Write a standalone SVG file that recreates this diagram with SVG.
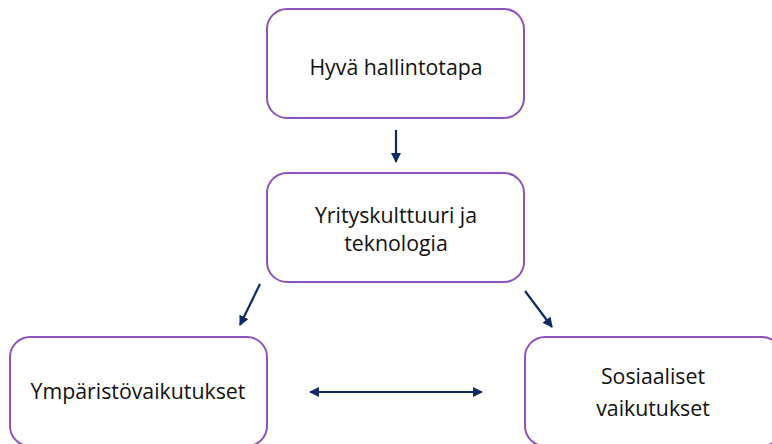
<svg xmlns="http://www.w3.org/2000/svg" width="772" height="444" viewBox="0 0 772 444">
<style>
.box{fill:#fff;stroke:#8E52BE;stroke-width:2}
.t{font-family:"Open Sans","Liberation Sans",sans-serif;font-size:21.3px;fill:#111;text-anchor:middle}
.c{stroke:#0C2A68;stroke-width:2.2;fill:none}
</style>
<defs>
<marker id="ah" viewBox="0 0 10 10" refX="9" refY="5" markerWidth="4.6" markerHeight="4.6" orient="auto-start-reverse" markerUnits="strokeWidth">
<path d="M0,0 L10,5 L0,10 z" fill="#0C2A68"/>
</marker>
</defs>
<rect width="772" height="444" fill="#fff"/>
<g id="n1"><rect class="box" x="267" y="9" width="257" height="109" rx="20"/><text class="t" x="396" y="75">Hyvä hallintotapa</text></g>
<g id="n2"><rect class="box" x="267" y="173" width="257" height="109" rx="20"/><text class="t" x="396" y="223">Yrityskulttuuri ja</text><text class="t" x="396" y="251">teknologia</text></g>
<g id="n3"><rect class="box" x="10" y="337" width="257" height="109" rx="20"/><text class="t" x="138" y="399">Ympäristövaikutukset</text></g>
<g id="n4"><rect class="box" x="525" y="337" width="257" height="109" rx="20"/><text class="t" x="653" y="384">Sosiaaliset</text><text class="t" x="653" y="416">vaikutukset</text></g>
<g id="connectors">
<line class="c" x1="396" y1="130" x2="396" y2="162" marker-end="url(#ah)"/>
<line class="c" x1="260" y1="284" x2="240" y2="325" marker-end="url(#ah)"/>
<line class="c" x1="525" y1="291" x2="552" y2="327" marker-end="url(#ah)"/>
<line class="c" x1="310" y1="392" x2="482" y2="392" marker-start="url(#ah)" marker-end="url(#ah)"/>
</g>
</svg>
